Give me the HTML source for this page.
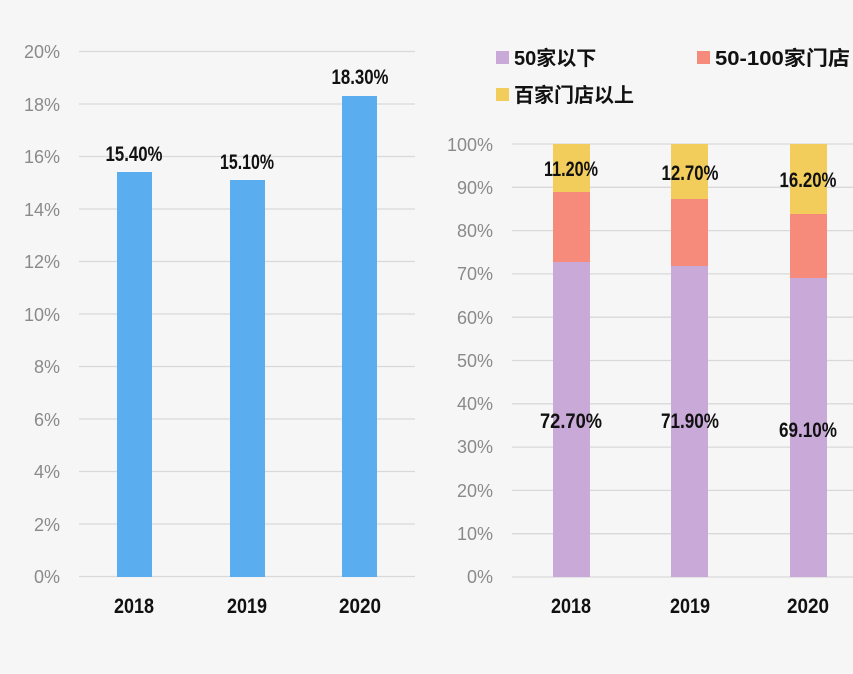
<!DOCTYPE html>
<html><head><meta charset="utf-8"><style>
html,body{margin:0;padding:0;background:#f6f6f6;}
svg{display:block}
.ax{font-family:"Liberation Sans Narrow","Liberation Sans",sans-serif;fill:#8a8a8a;font-size:18px}
.v{font-family:"Liberation Sans Narrow","Liberation Sans",sans-serif;fill:#111;font-size:21px;font-weight:bold}
.x{font-family:"Liberation Sans Narrow","Liberation Sans",sans-serif;fill:#111;font-size:21px;font-weight:bold}
.lg{font-family:"Liberation Sans","Noto Sans CJK SC",sans-serif;fill:#111;font-size:20px;font-weight:bold}
</style></head><body>
<svg width="853" height="674" viewBox="0 0 853 674" xmlns="http://www.w3.org/2000/svg">
<rect width="853" height="674" fill="#f6f6f6"/>
<g stroke="#d9d9d9" stroke-width="1.3">
<line x1="79" x2="415" y1="51.5" y2="51.5"/><line x1="79" x2="415" y1="104" y2="104"/><line x1="79" x2="415" y1="156.5" y2="156.5"/><line x1="79" x2="415" y1="209" y2="209"/><line x1="79" x2="415" y1="261.5" y2="261.5"/><line x1="79" x2="415" y1="314" y2="314"/><line x1="79" x2="415" y1="366.5" y2="366.5"/><line x1="79" x2="415" y1="419" y2="419"/><line x1="79" x2="415" y1="471.5" y2="471.5"/><line x1="79" x2="415" y1="524" y2="524"/><line x1="79" x2="415" y1="576.5" y2="576.5"/>
</g>
<g class="ax" text-anchor="end">
<text x="60" y="58">20%</text><text x="60" y="111">18%</text><text x="60" y="163">16%</text><text x="60" y="216">14%</text><text x="60" y="268">12%</text><text x="60" y="321">10%</text><text x="60" y="373">8%</text><text x="60" y="426">6%</text><text x="60" y="478">4%</text><text x="60" y="531">2%</text><text x="60" y="583">0%</text>
</g>
<g fill="#5aaef0">
<rect x="117" y="172" width="35" height="405"/><rect x="230" y="180" width="35" height="397"/><rect x="342" y="96" width="35" height="481"/>
</g>
<g class="v" text-anchor="middle">
<text x="134" y="161" textLength="57" lengthAdjust="spacingAndGlyphs">15.40%</text>
<text x="247" y="169" textLength="54" lengthAdjust="spacingAndGlyphs">15.10%</text>
<text x="360" y="84" textLength="57" lengthAdjust="spacingAndGlyphs">18.30%</text>
</g>
<g class="x" text-anchor="middle">
<text x="134" y="613" textLength="40" lengthAdjust="spacingAndGlyphs">2018</text>
<text x="247" y="613" textLength="40" lengthAdjust="spacingAndGlyphs">2019</text>
<text x="360" y="613" textLength="42" lengthAdjust="spacingAndGlyphs">2020</text>
</g>

<g stroke="#d9d9d9" stroke-width="1.3">
<line x1="512" x2="853" y1="144" y2="144"/><line x1="512" x2="853" y1="187.3" y2="187.3"/><line x1="512" x2="853" y1="230.6" y2="230.6"/><line x1="512" x2="853" y1="273.9" y2="273.9"/><line x1="512" x2="853" y1="317.2" y2="317.2"/><line x1="512" x2="853" y1="360.5" y2="360.5"/><line x1="512" x2="853" y1="403.8" y2="403.8"/><line x1="512" x2="853" y1="447.1" y2="447.1"/><line x1="512" x2="853" y1="490.4" y2="490.4"/><line x1="512" x2="853" y1="533.7" y2="533.7"/><line x1="512" x2="853" y1="577" y2="577"/>
</g>
<g class="ax" text-anchor="end">
<text x="493" y="151">100%</text><text x="493" y="194">90%</text><text x="493" y="237">80%</text><text x="493" y="280">70%</text><text x="493" y="324">60%</text><text x="493" y="367">50%</text><text x="493" y="410">40%</text><text x="493" y="453">30%</text><text x="493" y="497">20%</text><text x="493" y="540">10%</text><text x="493" y="583">0%</text>
</g>
<rect x="553" y="262" width="37" height="315" fill="#c8a9d8"/><rect x="553" y="192" width="37" height="70" fill="#f68a7b"/><rect x="553" y="144" width="37" height="48" fill="#f2cd5c"/>
<rect x="671" y="266" width="37" height="311" fill="#c8a9d8"/><rect x="671" y="199" width="37" height="67" fill="#f68a7b"/><rect x="671" y="144" width="37" height="55" fill="#f2cd5c"/>
<rect x="790" y="278" width="37" height="299" fill="#c8a9d8"/><rect x="790" y="214" width="37" height="64" fill="#f68a7b"/><rect x="790" y="144" width="37" height="70" fill="#f2cd5c"/>
<g class="v" text-anchor="middle">
<text x="571" y="176" textLength="54" lengthAdjust="spacingAndGlyphs">11.20%</text>
<text x="690" y="180" textLength="57" lengthAdjust="spacingAndGlyphs">12.70%</text>
<text x="808" y="187" textLength="57" lengthAdjust="spacingAndGlyphs">16.20%</text>
<text x="571" y="428" textLength="62" lengthAdjust="spacingAndGlyphs">72.70%</text>
<text x="690" y="428" textLength="58" lengthAdjust="spacingAndGlyphs">71.90%</text>
<text x="808" y="437" textLength="58" lengthAdjust="spacingAndGlyphs">69.10%</text>
</g>
<g class="x" text-anchor="middle">
<text x="571" y="613" textLength="40" lengthAdjust="spacingAndGlyphs">2018</text>
<text x="690" y="613" textLength="40" lengthAdjust="spacingAndGlyphs">2019</text>
<text x="808" y="613" textLength="42" lengthAdjust="spacingAndGlyphs">2020</text>
</g>
<rect x="496" y="51" width="13" height="13" fill="#c8a9d8"/>
<text class="lg" x="514" y="65">50家以下</text>
<rect x="697" y="51" width="13" height="13" fill="#f68a7b"/>
<text class="lg" x="715" y="65" textLength="135" lengthAdjust="spacingAndGlyphs">50-100家门店</text>
<rect x="496" y="88" width="13" height="13" fill="#f2cd5c"/>
<text class="lg" x="514" y="102">百家门店以上</text>
</svg>
</body></html>
